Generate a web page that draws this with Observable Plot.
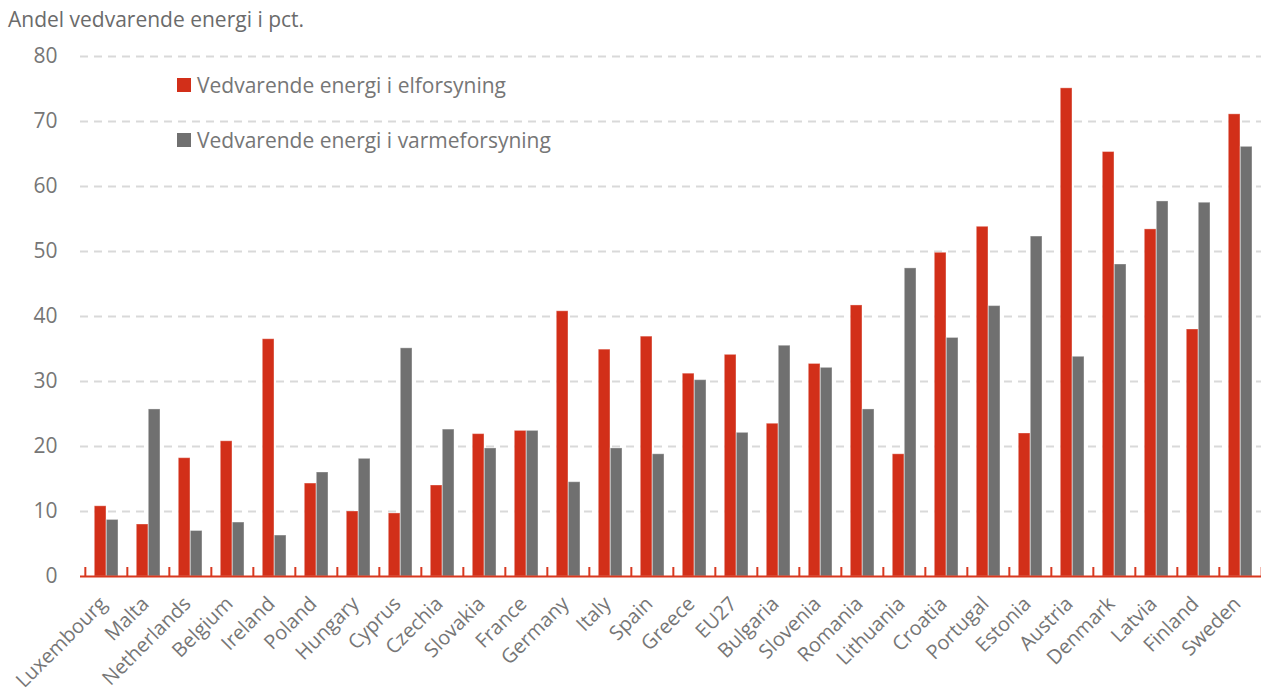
<!DOCTYPE html>
<html>
<head>
<meta charset="utf-8">
<script src="https://cdn.jsdelivr.net/npm/d3@7"></script>
<script src="https://cdn.jsdelivr.net/npm/@observablehq/plot@0.6"></script>
<style>
  html, body { margin: 0; padding: 0; background: #fff; }
  #wrap { position: relative; width: 1261px; height: 692px; font-family: "Open Sans", sans-serif; }
  #title { position: absolute; left: 8px; top: 5px; font-size: 21px; color: #6b6b6b; white-space: nowrap; }
  .legend { position: absolute; left: 177px; font-size: 21px; color: #767676; white-space: nowrap; display: flex; align-items: center; }
  .legend .sw { width: 14px; height: 14px; margin-right: 6px; display: inline-block; }
</style>
</head>
<body>
<div id="wrap">
  <div id="title">Andel vedvarende energi i pct.</div>
  <div class="legend" id="leg1" style="top:71px"><span class="sw"></span><span class="lt"></span></div>
  <div class="legend" id="leg2" style="top:126px"><span class="sw"></span><span class="lt"></span></div>
</div>
<script>
// Countries, ordered by the chart
const countries = ["Luxembourg", "Malta", "Netherlands", "Belgium", "Ireland", "Poland", "Hungary",
  "Cyprus", "Czechia", "Slovakia", "France", "Germany", "Italy", "Spain", "Greece", "EU27",
  "Bulgaria", "Slovenia", "Romania", "Lithuania", "Croatia", "Portugal", "Estonia", "Austria",
  "Denmark", "Latvia", "Finland", "Sweden"];

// Share of renewable energy in electricity supply (pct.)
const elforsyning = [10.8, 8.0, 18.2, 20.8, 36.5, 14.3, 10.0, 9.7, 14.0, 21.9, 22.4, 40.8, 34.9, 36.9,
  31.2, 34.1, 23.5, 32.7, 41.7, 18.8, 49.8, 53.8, 22.0, 75.1, 65.3, 53.4, 38.0, 71.1];

// Share of renewable energy in heating supply (pct.)
const varmeforsyning = [8.7, 25.7, 7.0, 8.3, 6.3, 16.0, 18.1, 35.1, 22.6, 19.7, 22.4, 14.5, 19.7, 18.8,
  30.2, 22.1, 35.5, 32.1, 25.7, 47.4, 36.7, 41.6, 52.3, 33.8, 48.0, 57.7, 57.5, 66.1];

const seriesNames = ["Vedvarende energi i elforsyning", "Vedvarende energi i varmeforsyning"];
const seriesColors = ["#d22f19", "#707070"];
const yTicks = [0, 10, 20, 30, 40, 50, 60, 70, 80];

const rows = countries.map((country, i) => ({country, el: elforsyning[i], varme: varmeforsyning[i]}));

const xRange = [80, 1265];
const step = (xRange[1] - xRange[0]) / countries.length;

const chart = Plot.plot({
  width: 1261,
  height: 692,
  marginTop: 56,
  marginBottom: 116,
  marginLeft: 80,
  marginRight: 0,
  style: {fontFamily: "Open Sans, sans-serif", background: "transparent", overflow: "visible"},
  x: {domain: countries, range: xRange, padding: 0, label: null},
  y: {domain: [0, 80], label: null},
  marks: [
    Plot.ruleY(yTicks.filter(d => d > 0), {stroke: "#d9d9d9", strokeWidth: 2, strokeDasharray: "8,6"}),
    Plot.barY(rows, {x: "country", y: "el", fill: seriesColors[0], insetLeft: 9.3, insetRight: step - 21.3,
      stroke: "#fff", strokeOpacity: 0.35, strokeWidth: 1}),
    Plot.barY(rows, {x: "country", y: "varme", fill: seriesColors[1], insetLeft: 21.3, insetRight: step - 33.3,
      stroke: "#fff", strokeOpacity: 0.35, strokeWidth: 1}),
    Plot.ruleY([0], {stroke: "#d8381f", strokeWidth: 2}),
    // small tick marks on the category boundaries
    Plot.ruleX(countries, {x: d => d, dx: -step / 2, insetTop: 520 - 9, stroke: "#d8381f", strokeWidth: 2}),
    Plot.ruleX([countries[countries.length - 1]], {x: d => d, dx: step / 2, insetTop: 520 - 9, stroke: "#d8381f", strokeWidth: 2}),
    Plot.axisY(yTicks, {tickSize: 0, tickPadding: 23, fontSize: 21, fill: "#767676", label: null}),
    Plot.axisX({tickSize: 0, tickRotate: -45, tickPadding: 24, fontSize: 20, fill: "#767676", label: null, dx: -3})
  ]
});

document.getElementById("wrap").prepend(chart);
chart.style.position = "absolute";
chart.style.left = "0px";
chart.style.top = "0px";

[document.getElementById("leg1"), document.getElementById("leg2")].forEach((el, i) => {
  el.querySelector(".sw").style.background = seriesColors[i];
  el.querySelector(".lt").textContent = seriesNames[i];
});
</script>
</body>
</html>
